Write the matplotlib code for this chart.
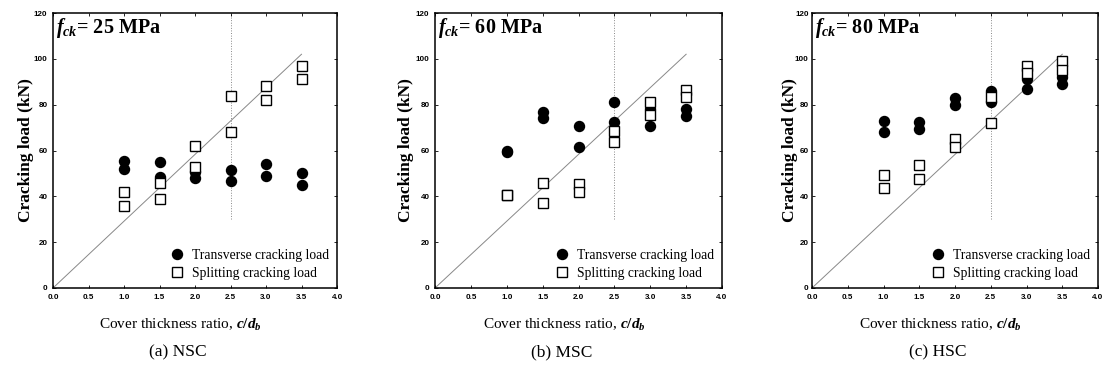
import numpy as np
import matplotlib.pyplot as plt

### Data
ratios = [1.0, 1.0, 1.5, 1.5, 2.0, 2.0, 2.5, 2.5, 3.0, 3.0, 3.5, 3.5]

trans_nsc = [55.5, 52, 55, 48.5, 50.5, 48, 51.5, 46.5, 54, 49, 50, 45]
split_nsc = [42, 36, 46, 39, 62, 53, 84, 68, 88, 82, 97, 91]

trans_msc = [60, 59.5, 77, 74, 70.5, 61.5, 81, 72.5, 78, 70.5, 78, 75]
split_msc = [40.5, 40.5, 46, 37, 45.5, 42, 68.5, 63.5, 81, 75.5, 86.5, 83.5]

trans_hsc = [73, 68, 72.5, 69.5, 83, 80, 86, 81, 91, 87, 92, 89]
split_hsc = [49.5, 43.5, 53.5, 47.5, 65, 61.5, 83.5, 72, 97, 94, 99, 95]

fck_values = ['25', '60', '80']
captions = ['(a) NSC', '(b) MSC', '(c) HSC']

# reference line and boundary
line_x = [0.0, 3.5]
line_y = [0.0, 102.0]
boundary_x = 2.5
boundary_y = [30, 120]

x_ticks = [0.0, 0.5, 1.0, 1.5, 2.0, 2.5, 3.0, 3.5, 4.0]
y_ticks = [0, 20, 40, 60, 80, 100, 120]

trans_all = [trans_nsc, trans_msc, trans_hsc]
split_all = [split_nsc, split_msc, split_hsc]

serif = 'Liberation Serif'
plt.rcParams['mathtext.fontset'] = 'custom'
plt.rcParams['mathtext.it'] = 'Liberation Serif:italic:bold'
plt.rcParams['mathtext.rm'] = 'Liberation Serif:bold'
plt.rcParams['mathtext.bf'] = 'Liberation Serif:bold'

fig = plt.figure(figsize=(11.11, 3.78), dpi=100)
W, H = 1111, 378
# axes boxes in pixels: left, right, top, bottom
boxes = [(53, 337, 13, 288), (435, 722, 13, 288), (812, 1098, 13, 288)]
ypads = [0, 1, -2]
ytickpads = [4, 4, 2.5]

for k in range(3):
    l, r, t, b = boxes[k]
    ax = fig.add_axes([l / W, (H - b) / H, (r - l) / W, (b - t) / H])

    ax.plot(line_x, line_y, color='#888888', lw=0.7, zorder=1)
    ax.plot([boundary_x, boundary_x], boundary_y, color='#888888', lw=0.7,
            ls=':', zorder=1)

    ax.plot(ratios, trans_all[k], 'o', color='black', ms=7.2, ls='none',
            label='Transverse cracking load', zorder=3)
    ax.plot(ratios, split_all[k], 's', mfc='white', mec='black', mew=1.0,
            ms=6.5, ls='none', label='Splitting cracking load', zorder=4)

    ax.set_xlim(0, 4)
    ax.set_ylim(0, 120)
    ax.set_xticks(x_ticks)
    ax.set_yticks(y_ticks)
    ax.set_xticklabels(['%.1f' % v for v in x_ticks])
    ax.tick_params(direction='in', length=2.5, width=0.6, labelsize=5.8,
                   top=True, right=True, pad=4)
    ax.tick_params(axis='y', pad=ytickpads[k])
    for lab in ax.get_xticklabels() + ax.get_yticklabels():
        lab.set_fontweight('bold')
        lab.set_family('Liberation Sans')
    for s in ax.spines.values():
        s.set_linewidth(1.1)

    ax.set_ylabel('Cracking load (kN)', family=serif, fontsize=12.5,
                  fontweight='bold', labelpad=ypads[k])
    ax.set_xlabel('Cover thickness ratio, $c/d_b$', family=serif,
                  fontsize=11, labelpad=12)
    ax.xaxis.set_label_coords(0.45, -0.105)

    ax.text(0.01, 0.99, r'$f_{ck}$= %s MPa' % fck_values[k],
            transform=ax.transAxes, ha='left', va='top', family=serif,
            fontsize=14.5, fontweight='bold')

    ax.legend(loc='lower right', frameon=False, handletextpad=0.3,
              borderaxespad=0.2, labelspacing=0.35, handlelength=1.6,
              prop={'family': serif, 'size': 9.8})

    ax.text(0.44, -0.205, captions[k], transform=ax.transAxes, ha='center',
            va='top', family=serif, fontsize=12.5)

plt.savefig('out.png', dpi=100)
